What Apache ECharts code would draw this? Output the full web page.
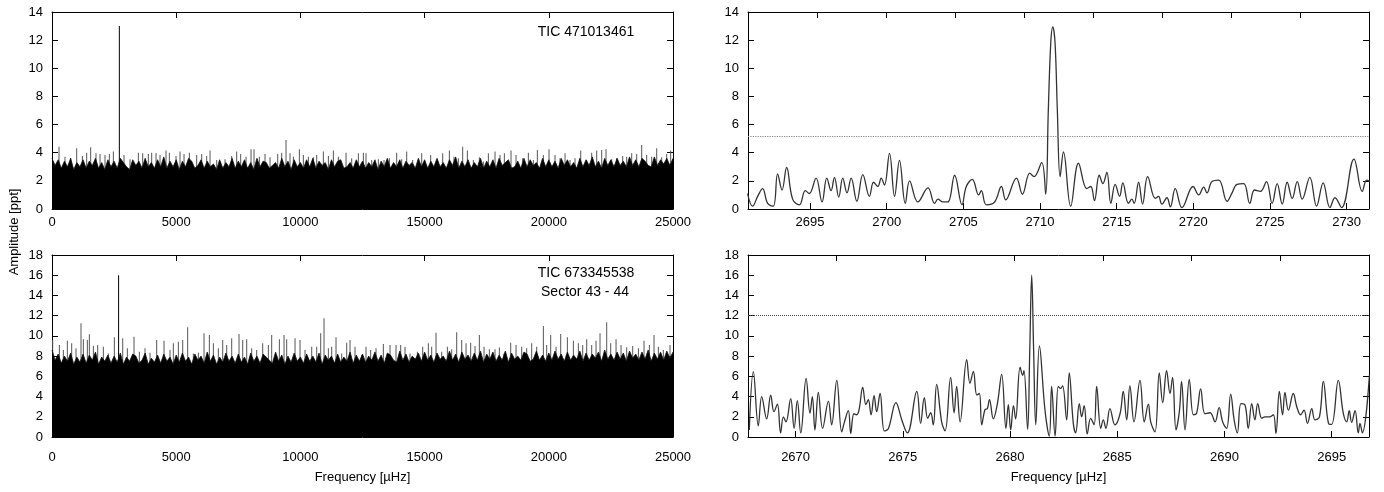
<!DOCTYPE html>
<html>
<head>
<meta charset="utf-8">
<script src="https://cdn.jsdelivr.net/npm/echarts@6/dist/echarts.min.js"></script>
<style>
  html, body { margin: 0; padding: 0; background: #fff; }
  #main { width: 1384px; height: 492px; }
</style>
</head>
<body>
<div id="main"></div>
<script>
// ---- data ----

// full-range periodograms: top edge of the dense noise band, every 125 uHz from 0
var baseStep = 125;
var topBase = [3.6,3.1,3.5,2.9,3.4,3.0,3.6,2.8,3.3,3.0,3.5,2.9,3.4,3.1,3.6,2.9,3.3,2.8,3.5,3.0,
               3.4,2.9,3.6,3.3,3.0,2.8,3.5,3.1,3.4,2.9,3.6,3.0,3.3,2.9,3.5,3.0,3.7,2.9,3.4,3.0,
               3.5,2.8,3.4,3.0,3.6,3.4,2.9,3.1,3.5,2.9,3.4,3.0,3.2,2.8,3.5,2.9,3.3,3.0,3.6,2.9,
               3.4,3.0,3.5,2.9,3.3,2.8,3.6,3.0,3.4,3.3,2.9,3.1,3.3,2.9,3.6,3.0,3.4,2.8,3.5,3.0,
               3.3,2.9,3.5,3.0,3.6,2.9,3.4,3.1,3.3,2.8,3.5,3.0,3.4,3.5,2.9,3.0,3.3,2.9,3.5,3.0,
               3.4,2.9,3.3,3.0,3.5,2.8,3.4,3.0,3.6,2.9,3.3,3.0,3.5,2.9,3.4,3.1,3.3,2.9,3.6,3.0,
               3.5,2.9,3.4,3.0,3.6,3.0,3.3,2.9,3.5,3.1,3.7,2.9,3.4,3.0,3.5,2.9,3.3,3.0,3.6,2.9,
               3.4,3.0,3.5,2.9,3.6,3.1,3.3,3.5,2.9,3.0,3.4,2.9,3.6,3.0,3.5,3.1,3.3,2.9,3.6,3.0,
               3.5,3.0,3.4,2.9,3.6,3.1,3.5,3.0,3.3,2.9,3.6,3.0,3.5,3.1,3.7,3.0,3.4,2.9,3.6,3.1,
               3.5,3.0,3.6,3.1,3.4,3.0,3.7,3.1,3.5,3.0,3.6,3.4,3.1,3.0,3.7,3.1,3.5,3.2,3.6,3.1,3.6];
var botBase = [8.6,7.6,8.2,7.3,8.0,7.5,8.3,7.2,7.9,7.4,8.2,7.3,8.1,7.6,8.4,7.2,7.9,7.5,8.1,7.3,
               8.0,7.4,8.3,7.2,7.9,7.5,8.2,8.0,7.3,7.6,8.3,7.2,7.8,7.4,8.1,7.3,8.2,7.5,7.9,7.2,
               8.1,7.4,8.3,7.5,7.9,7.2,8.2,7.6,8.0,7.3,8.4,7.5,8.1,7.2,7.9,7.4,8.3,7.5,8.0,7.3,
               8.2,7.4,7.9,7.2,8.3,7.5,8.0,7.3,8.2,7.9,7.6,7.3,8.4,7.5,8.1,7.2,8.0,7.4,8.3,7.5,
               7.9,7.3,8.2,7.5,8.0,7.4,8.3,7.2,8.1,7.6,8.0,7.3,8.2,7.4,7.9,7.5,8.4,7.3,8.1,7.5,
               8.2,7.4,8.0,7.6,8.4,7.5,8.1,7.3,8.3,8.1,7.6,7.4,8.5,7.6,8.2,7.4,8.0,7.7,8.3,7.5,
               8.4,7.6,8.1,7.4,8.3,7.7,8.0,7.5,8.5,7.6,8.2,7.4,8.4,7.7,8.1,7.5,8.3,7.6,8.5,7.4,
               8.2,7.7,8.4,7.5,8.1,7.6,8.5,7.4,8.3,7.7,8.0,7.6,8.4,8.2,7.5,7.7,8.5,7.6,8.1,7.5,
               8.3,7.6,8.5,7.7,8.2,7.5,8.4,7.6,8.1,7.7,8.5,7.5,8.3,7.6,8.2,7.8,8.4,7.5,8.6,7.7,
               8.2,7.6,8.4,7.7,8.3,7.5,8.5,7.8,8.2,7.6,8.4,7.7,8.6,7.5,8.3,7.7,8.4,7.6,8.5,7.8,8.4];

// tallest single peaks sticking out of the band
var topSpikeFreq = [282,524,752,994,1222,1396,1557,1772,1933,2134,2309,2470,2711,2899,3141,3476,3651,3879,4013,4188,
    4349,4590,4724,4993,5154,5315,5530,5825,6026,6227,6362,6630,6966,7234,7435,7596,7811,8013,8133,8348,
    8576,8777,9086,9247,9421,9582,9717,9958,10119,10321,10522,10656,10924,11126,11327,11528,11837,12065,12334,12535,
    12642,12870,13138,13366,13581,13876,14078,14279,14520,14883,15245,15513,15728,15997,16184,16359,16533,16721,16963,17204,
    17365,17567,17835,18036,18211,18479,18681,18949,19177,19378,19539,19781,20009,20251,20452,20653,20855,21056,21284,21526,
    21727,21928,22130,22304,22532,22733,22975,23136,23337,23539,23740,23941,24143,24344,24545,24746,24907];
var topSpikeAmp = [4.43,3.72,3.60,4.31,3.77,4.00,4.38,3.96,3.91,3.84,3.91,4.08,13.0,3.84,3.53,4.00,3.96,3.91,4.00,3.96,
    3.84,4.15,4.00,3.77,4.08,3.91,4.00,3.84,3.91,3.77,4.15,3.48,3.53,3.77,4.08,3.91,3.72,4.24,4.24,3.72,
    3.91,3.67,3.91,4.00,4.90,3.96,3.72,4.24,3.84,3.72,3.67,3.84,4.08,3.77,4.15,3.72,4.00,3.60,3.96,4.00,
    3.96,3.48,3.53,3.48,3.60,4.00,3.53,4.08,3.48,3.96,3.84,3.37,3.96,4.15,3.72,3.60,4.43,4.15,3.48,3.67,
    3.37,3.96,4.08,3.84,3.96,4.15,3.84,3.60,4.00,3.48,4.19,3.84,4.24,3.84,3.60,3.96,3.48,3.60,4.15,3.48,
    4.00,4.15,4.19,4.24,3.53,3.60,3.77,3.72,3.96,3.91,4.55,3.84,3.72,4.31,3.67,3.91,4.15];

var botSpikeFreq = [27,296,457,618,792,967,1168,1262,1423,1504,1665,1839,2067,2269,2510,2681,2846,3033,3302,3517,
    3745,3946,4214,4510,4751,4885,5087,5262,5462,5691,5892,6120,6335,6496,6697,6872,7033,7234,7529,7677,
    7838,8039,8240,8482,8710,8844,9153,9341,9448,9784,9985,10186,10455,10656,10817,10951,11126,11260,11434,11662,
    11864,11998,12199,12468,12642,12829,13044,13339,13608,13849,14037,14212,14413,14708,14923,15151,15285,15460,15688,15916,
    16091,16292,16493,16668,16855,17030,17204,17392,17607,17835,18010,18198,18466,18681,18909,19110,19311,19513,19781,19915,
    20076,20291,20479,20747,20989,21190,21365,21526,21727,21901,22062,22331,22492,22707,22908,23136,23378,23607,23834,24049,
    24236,24411,24612,24880];
var botSpikeAmp = [9.59,9.10,8.60,9.53,9.26,8.77,11.24,9.66,9.59,10.15,9.00,9.10,8.93,8.27,9.86,16.0,9.76,8.77,9.92,8.44,
    8.77,8.34,9.59,9.53,8.60,9.26,9.43,9.59,10.85,8.27,8.34,10.25,10.09,9.26,8.77,9.59,9.10,9.76,10.19,9.59,
    9.66,8.77,8.60,9.26,9.10,10.09,9.66,10.09,9.66,9.76,9.59,8.60,8.93,8.93,10.25,11.74,8.77,8.93,9.86,8.27,
    9.33,9.59,8.93,8.11,8.93,8.60,8.77,9.20,9.10,9.10,9.10,8.93,8.27,8.44,8.93,9.26,8.93,10.32,8.44,8.93,
    8.67,10.35,9.59,9.26,9.33,9.00,10.09,8.93,8.67,8.67,8.84,8.27,9.33,9.10,8.93,8.77,9.26,8.93,10.98,9.10,
    10.09,8.93,10.19,9.86,9.53,9.26,9.10,9.66,9.10,9.53,10.25,11.34,9.26,9.66,9.10,8.87,9.00,8.77,9.53,9.10,
    10.09,8.93,8.60,9.10];

// zoom on the main peak, TIC 471013461
var zoomTopFreq = [2690.92,2691.25,2691.58,2691.90,2692.23,2692.60,2692.88,2693.17,2693.47,2693.86,2694.30,2694.69,2694.95,
    2695.39,2695.78,2696.09,2696.37,2696.59,2696.87,2697.13,2697.41,2697.68,2698.05,2698.44,2698.87,2699.14,2699.42,
    2699.64,2699.85,2700.18,2700.51,2700.83,2701.21,2701.49,2702.03,2702.69,2703.12,2703.34,2703.67,2703.99,2704.43,
    2704.91,2705.19,2705.58,2706.00,2706.17,2706.50,2707.04,2707.48,2707.76,2708.46,2708.85,2709.33,2709.61,2710.11,
    2710.37,2710.54,2710.70,2710.83,2710.98,2711.13,2711.31,2711.53,2712.00,2712.51,2713.05,2713.31,2713.55,2713.86,
    2714.10,2714.36,2714.62,2714.90,2715.19,2715.40,2715.77,2715.99,2716.14,2716.43,2716.69,2717.02,2717.52,2717.73,
    2717.95,2718.28,2718.50,2718.82,2719.26,2719.98,2720.35,2720.68,2720.89,2721.22,2721.66,2722.20,2722.53,2722.85,
    2723.29,2723.68,2723.99,2724.38,2724.77,2725.14,2725.47,2725.80,2726.12,2726.45,2726.78,2727.10,2727.60,2728.04,
    2728.47,2728.91,2729.24,2729.67,2730.48,2731.02,2731.31,2731.52];
var zoomTopAmp = [1.1,0.2,0.9,1.45,0.4,0.2,2.5,1.35,2.95,0.7,0.3,1.3,1.1,
    2.2,0.5,2.2,1.3,2.25,0.85,2.2,1.15,2.2,0.55,2.45,0.9,1.9,1.6,
    2.2,1.7,3.95,0.9,3.45,0.4,2.0,0.5,1.5,0.4,0.7,0.5,0.5,2.4,
    0.3,1.6,2.1,1.0,1.3,0.3,0.5,1.6,0.65,2.2,1.05,2.55,2.3,3.3,
    1.05,7.0,11.8,12.95,11.8,7.0,2.3,4.05,0.2,3.25,1.45,1.6,0.6,2.4,
    1.8,2.6,0.4,1.75,0.9,1.85,0.4,0.7,0.4,1.9,0.35,2.3,0.75,0.9,
    0.35,0.8,0.15,1.45,0.1,1.6,1.0,1.55,1.15,1.95,2.05,0.55,1.15,1.75,
    1.8,0.4,1.35,1.25,1.95,0.4,1.8,0.35,1.9,0.75,1.95,0.7,2.25,0.2,
    1.85,0.1,0.8,0.1,3.55,1.25,2.05,1.95];
var zoomTopLimit = 5.2;

// zoom on the main peak, TIC 673345538
var zoomBotFreq = [2667.84,2668.03,2668.26,2668.42,2668.65,2668.84,2668.99,2669.15,2669.30,2669.43,2669.55,2669.77,2669.93,
    2670.08,2670.24,2670.49,2670.67,2670.78,2670.90,2671.06,2671.26,2671.53,2671.68,2671.92,2672.15,2672.26,2672.46,
    2672.57,2672.72,2672.85,2672.96,2673.13,2673.28,2673.39,2673.52,2673.66,2673.78,2673.94,2674.14,2674.33,2674.68,
    2674.95,2675.21,2675.65,2675.83,2676.00,2676.16,2676.30,2676.42,2676.58,2676.81,2676.97,2677.23,2677.39,2677.51,
    2677.67,2677.98,2678.13,2678.29,2678.45,2678.57,2678.68,2678.83,2678.94,2679.04,2679.22,2679.41,2679.61,2679.81,
    2679.92,2680.03,2680.16,2680.26,2680.47,2680.59,2680.65,2680.82,2680.92,2681.01,2681.10,2681.20,2681.37,2681.63,
    2681.83,2681.94,2682.10,2682.25,2682.36,2682.45,2682.64,2682.76,2682.95,2683.06,2683.23,2683.34,2683.46,2683.60,
    2683.76,2683.92,2684.04,2684.23,2684.35,2684.47,2684.66,2684.89,2685.13,2685.28,2685.44,2685.59,2685.78,2686.06,
    2686.26,2686.45,2686.56,2686.76,2686.96,2687.12,2687.30,2687.46,2687.58,2687.74,2687.90,2688.00,2688.16,2688.36,
    2688.55,2688.70,2688.89,2689.09,2689.33,2689.56,2689.75,2689.92,2690.10,2690.29,2690.45,2690.60,2690.77,2690.96,
    2691.11,2691.27,2691.42,2691.55,2691.74,2691.89,2692.12,2692.28,2692.40,2692.56,2692.71,2692.82,2692.98,2693.21,
    2693.37,2693.55,2693.71,2693.87,2694.07,2694.22,2694.43,2694.61,2694.85,2695.00,2695.31,2695.54,2695.70,2695.82,
    2695.93,2696.09,2696.24,2696.32,2696.43,2696.76];
var zoomBotAmp = [0.7,6.46,1.1,4.0,1.8,4.15,2.5,3.25,0.4,2.0,1.5,3.8,0.85,
    3.6,0.4,5.8,2.35,4.0,0.7,4.4,0.85,3.55,1.2,5.6,0.5,1.35,2.6,
    0.35,2.3,2.2,2.7,4.9,3.2,3.7,2.2,4.1,2.5,4.3,0.6,0.85,3.4,
    1.7,0.4,4.5,1.35,3.9,1.85,2.4,1.2,5.2,1.5,0.6,5.9,2.4,5.0,
    1.5,7.65,5.3,6.5,4.15,4.3,1.2,2.7,2.8,3.7,1.8,3.3,6.2,0.85,
    3.2,0.7,3.1,1.8,6.9,6.1,6.55,0.75,8.6,16.0,8.6,1.2,9.0,2.65,
    0.1,5.0,0.1,5.0,4.8,5.05,1.7,6.35,1.35,0.4,3.3,2.0,3.1,0.3,
    1.85,1.2,5.0,0.85,1.7,0.85,2.8,1.2,2.3,4.5,1.7,5.05,1.5,5.6,
    1.5,3.25,1.5,0.5,6.35,3.4,6.55,4.3,5.9,0.7,2.6,5.5,0.7,5.7,
    2.2,2.35,4.75,2.3,2.4,1.5,2.9,1.45,0.85,4.25,1.7,0.4,3.3,3.15,
    0.85,3.3,1.7,3.3,1.85,2.0,2.0,2.2,0.35,4.5,2.2,4.4,2.65,4.3,
    3.0,2.2,2.65,1.35,2.8,1.7,2.0,5.5,1.35,1.25,5.6,2.35,1.5,2.6,
    1.45,2.6,0.4,1.35,0.4,6.1];
var zoomBotLimit = 12.0;

// ---- chart ----

function pairs(xs, ys) {
    var out = [];
    for (var i = 0; i < xs.length; i++) out.push([xs[i], ys[i]]);
    return out;
}
function stepped(ys) {
    var out = [];
    for (var i = 0; i < ys.length; i++) out.push([i * baseStep, ys[i]]);
    return out;
}
function spikes(xs, ys, main) {
    var out = [];
    for (var i = 0; i < xs.length; i++) {
        if (ys[i] === main) out.push({ value: [xs[i], ys[i]], itemStyle: { color: '#000' } });
        else out.push([xs[i], ys[i]]);
    }
    return out;
}

var FONT = '"Liberation Sans", Arial, Helvetica, sans-serif';
function boxLine() { return { show: true, onZero: false, lineStyle: { color: '#000', width: 1 } }; }
// gnuplot style: ticks point into the plot
function inTick() { return { show: true, inside: true, length: 6, lineStyle: { color: '#000', width: 1 } }; }
function labelStyle(margin, fmt) {
    return { show: true, color: '#000', fontFamily: FONT, fontSize: 13, margin: margin, formatter: fmt };
}
var plain = function (v) { return String(v); };
var every5 = function (v) { return Math.abs(v / 5 - Math.round(v / 5)) < 1e-6 ? String(v) : ''; };
var freqName = {
    name: 'Frequency [\u00b5Hz]', nameLocation: 'middle', nameGap: 34,
    nameTextStyle: { color: '#000', fontFamily: FONT, fontSize: 13 }
};

function xBottom(grid, min, max, extra) {
    var a = {
        gridIndex: grid, type: 'value', position: 'bottom', min: min, max: max,
        axisLine: boxLine(), axisTick: inTick(), splitLine: { show: false },
        axisLabel: labelStyle(grid < 2 ? 7 : 14, plain)
    };
    for (var k in extra) a[k] = extra[k];
    return a;
}
function xTop(grid, min, max, step) {
    return {
        gridIndex: grid, type: 'value', position: 'top', min: min, max: max, interval: step,
        axisLine: boxLine(), axisTick: inTick(), splitLine: { show: false }, axisLabel: { show: false }
    };
}
function yAxisPair(grid, max) {
    return [{
        gridIndex: grid, type: 'value', position: 'left', min: 0, max: max, interval: 2,
        axisLine: boxLine(), axisTick: inTick(), splitLine: { show: false },
        axisLabel: labelStyle(9, plain)
    }, {
        gridIndex: grid, type: 'value', position: 'right', min: 0, max: max, interval: 2,
        axisLine: boxLine(), axisTick: inTick(), splitLine: { show: false }, axisLabel: { show: false }
    }];
}
function withName(axis) {
    for (var k in freqName) axis[k] = freqName[k];
    return axis;
}

var chart = echarts.init(document.getElementById('main'), null, { renderer: 'canvas' });

option = {
    animation: false,
    backgroundColor: '#fff',
    grid: [
        { left: 52, top: 12, width: 621, height: 197, outerBoundsMode: 'none' },
        { left: 748, top: 12, width: 621, height: 197, outerBoundsMode: 'none' },
        { left: 52, top: 255, width: 621, height: 182, outerBoundsMode: 'none' },
        { left: 748, top: 255, width: 621, height: 182, outerBoundsMode: 'none' }
    ],
    xAxis: [
        xBottom(0, 0, 25000, { interval: 5000 }),
        xTop(0, 0, 25000, 5000),
        xBottom(1, 2690.95, 2731.46, { minInterval: 5, maxInterval: 5, axisLabel: labelStyle(7, every5) }),
        xTop(1, 0, 9, 1),
        withName(xBottom(2, 0, 25000, { interval: 5000 })),
        xTop(2, 0, 25000, 5000),
        withName(xBottom(3, 2667.78, 2696.74, { minInterval: 5, maxInterval: 5, axisLabel: labelStyle(14, every5) })),
        xTop(3, 0, 7, 1)
    ],
    yAxis: [].concat(yAxisPair(0, 14), yAxisPair(1, 14), yAxisPair(2, 18), yAxisPair(3, 18)),
    graphic: [
        { type: 'text', x: 586, y: 32, style: { text: 'TIC 471013461', font: '14px ' + FONT, fill: '#000', align: 'center', verticalAlign: 'middle' } },
        { type: 'text', x: 586, y: 273, style: { text: 'TIC 673345538', font: '14px ' + FONT, fill: '#000', align: 'center', verticalAlign: 'middle' } },
        { type: 'text', x: 585, y: 292, style: { text: 'Sector 43 - 44', font: '14px ' + FONT, fill: '#000', align: 'center', verticalAlign: 'middle' } },
        { type: 'text', x: 14, y: 232, rotation: Math.PI / 2, style: { text: 'Amplitude [ppt]', font: '13px ' + FONT, fill: '#000', align: 'center', verticalAlign: 'middle' } }
    ],
    series: [
        {
            name: 'TIC 471013461 peaks', type: 'bar', xAxisIndex: 0, yAxisIndex: 0, z: 1,
            data: spikes(topSpikeFreq, topSpikeAmp, 13.0), barWidth: 1, itemStyle: { color: '#555' }
        },
        {
            name: 'TIC 471013461', type: 'line', xAxisIndex: 0, yAxisIndex: 0, z: 2,
            data: stepped(topBase), symbol: 'none',
            lineStyle: { color: '#111', width: 0.8 }, areaStyle: { color: '#000', opacity: 1 }
        },
        {
            name: 'TIC 471013461 zoom', type: 'line', xAxisIndex: 2, yAxisIndex: 2,
            data: pairs(zoomTopFreq, zoomTopAmp), symbol: 'none', smooth: 0.4,
            lineStyle: { color: '#333', width: 1.3 },
            markLine: {
                silent: true, symbol: 'none', label: { show: false },
                lineStyle: { color: '#888', type: 'dotted', width: 1.2 },
                data: [{ yAxis: zoomTopLimit }]
            }
        },
        {
            name: 'TIC 673345538 peaks', type: 'bar', xAxisIndex: 4, yAxisIndex: 4, z: 1,
            data: spikes(botSpikeFreq, botSpikeAmp, 16.0), barWidth: 1, itemStyle: { color: '#555' }
        },
        {
            name: 'TIC 673345538', type: 'line', xAxisIndex: 4, yAxisIndex: 4, z: 2,
            data: stepped(botBase), symbol: 'none',
            lineStyle: { color: '#111', width: 0.8 }, areaStyle: { color: '#000', opacity: 1 }
        },
        {
            name: 'TIC 673345538 zoom', type: 'line', xAxisIndex: 6, yAxisIndex: 6,
            data: pairs(zoomBotFreq, zoomBotAmp), symbol: 'none', smooth: 0.4,
            lineStyle: { color: '#333', width: 1.3 },
            markLine: {
                silent: true, symbol: 'none', label: { show: false },
                lineStyle: { color: '#444', type: 'dotted', width: 1 },
                data: [{ yAxis: zoomBotLimit }]
            }
        }
    ]
};

chart.setOption(option);
</script>
</body>
</html>
